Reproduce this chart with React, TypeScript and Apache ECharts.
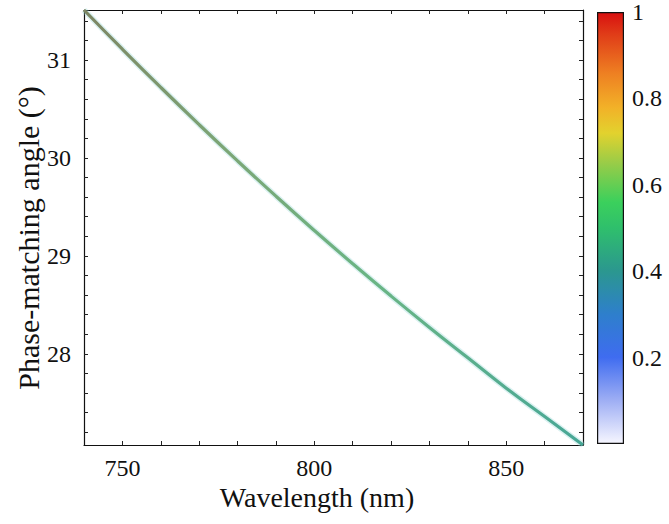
import React, { useEffect, useRef } from "react";
import * as echarts from "echarts";

// Wavelength (nm) and phase-matching angle (deg)
const wavelengths = [740, 750, 760, 770, 780, 790, 800, 810, 820, 830, 840, 850, 860, 870];
const angles = [31.51, 31.11, 30.72, 30.34, 29.97, 29.61, 29.26, 28.92, 28.59, 28.27, 27.96, 27.65, 27.36, 27.07];

const xRange = [740, 870];
const yRange = [27.07, 31.51];
const xTickLabels = [750, 800, 850];
const xMinorTicks = [750, 760, 770, 780, 790, 800, 810, 820, 830, 840, 850, 860];
const yTickLabels = [28, 29, 30, 31];
const yMinorTicks = [
  27.2, 27.4, 27.6, 27.8, 28, 28.2, 28.4, 28.6, 28.8, 29, 29.2, 29.4, 29.6, 29.8,
  30, 30.2, 30.4, 30.6, 30.8, 31, 31.2, 31.4,
];
const colorbarRange = [0, 1];
const colorbarTickLabels = [0.2, 0.4, 0.6, 0.8, 1];
const colorbarTicks = [0.2, 0.4, 0.6, 0.8];
const colorbarStops: [number, string][] = [
  [0.0, "#f6f6ff"],
  [0.1, "#9eaef4"],
  [0.2, "#3f6cf0"],
  [0.3, "#2e7fcc"],
  [0.4, "#2b978f"],
  [0.5, "#2fbf6c"],
  [0.56, "#3bd05c"],
  [0.65, "#98cc48"],
  [0.72, "#e2d22e"],
  [0.78, "#f2b128"],
  [0.86, "#ee7f22"],
  [0.95, "#e03c18"],
  [1.0, "#d81010"],
];

const FONT = "Liberation Serif, DejaVu Serif, serif";

export default function App() {
  const ref = useRef<HTMLDivElement>(null);
  useEffect(() => {
    document.body.style.margin = "0";
    const chart = echarts.init(ref.current!, null, { renderer: "svg" });
    const axisLine = { show: true, onZero: false, lineStyle: { color: "#111", width: 1.2 } };
    const tickStyle = { color: "#222", width: 1 };
    const cbGradient = new echarts.graphic.LinearGradient(
      0,
      0,
      0,
      1,
      colorbarStops.map(([v, c]) => ({ offset: 1 - v, color: c })).reverse()
    );
    const lineGradient = new echarts.graphic.LinearGradient(0, 0, 1, 1, [
      { offset: 0, color: "#7d8664" },
      { offset: 0.3, color: "#7ca676" },
      { offset: 0.6, color: "#6ab584" },
      { offset: 1, color: "#48a796" },
    ]);
    const labelStyle = { fontFamily: FONT, fontSize: 24, color: "#111" };
    chart.setOption({
      animation: false,
      backgroundColor: "#ffffff",
      textStyle: { fontFamily: FONT },
      grid: [
        { left: 84, right: 86, top: 10, bottom: 79 },
        { left: 597, right: 45, top: 10, bottom: 80 },
      ],
      xAxis: [
        {
          type: "value",
          gridIndex: 0,
          position: "bottom",
          min: xRange[0],
          max: xRange[1],
          axisLine,
          axisTick: { show: true, inside: true, length: 4, customValues: xMinorTicks, lineStyle: tickStyle },
          axisLabel: { customValues: xTickLabels, ...labelStyle, margin: 11 },
          splitLine: { show: false },
        },
        {
          type: "value",
          gridIndex: 0,
          position: "top",
          min: xRange[0],
          max: xRange[1],
          axisLine,
          axisTick: { show: true, inside: true, length: 4, customValues: xMinorTicks, lineStyle: tickStyle },
          axisLabel: { show: false },
          splitLine: { show: false },
        },
        { type: "category", gridIndex: 1, data: ["c"], show: false },
      ],
      yAxis: [
        {
          type: "value",
          gridIndex: 0,
          position: "left",
          min: yRange[0],
          max: yRange[1],
          axisLine,
          axisTick: { show: true, inside: true, length: 4, customValues: yMinorTicks, lineStyle: tickStyle },
          axisLabel: { customValues: yTickLabels, ...labelStyle, margin: 13 },
          splitLine: { show: false },
        },
        {
          type: "value",
          gridIndex: 0,
          position: "right",
          min: yRange[0],
          max: yRange[1],
          axisLine,
          axisTick: { show: true, inside: true, length: 4, customValues: yMinorTicks, lineStyle: tickStyle },
          axisLabel: { show: false },
          splitLine: { show: false },
        },
        {
          type: "value",
          gridIndex: 1,
          position: "right",
          min: colorbarRange[0],
          max: colorbarRange[1],
          axisLine: { show: false },
          axisTick: { show: true, inside: true, length: 4, customValues: colorbarTicks, lineStyle: tickStyle },
          axisLabel: {
            customValues: colorbarTickLabels,
            ...labelStyle,
            margin: 8,
            formatter: (v: number) => String(v),
          },
          splitLine: { show: false },
        },
      ],
      series: [
        {
          type: "line",
          xAxisIndex: 0,
          yAxisIndex: 0,
          data: wavelengths.map((w, i) => [w, angles[i]]),
          smooth: true,
          showSymbol: false,
          symbol: "none",
          lineStyle: { width: 6, color: "rgba(150,215,215,0.35)" },
          silent: true,
          z: 1,
        },
        {
          type: "line",
          xAxisIndex: 0,
          yAxisIndex: 0,
          data: wavelengths.map((w, i) => [w, angles[i]]),
          smooth: true,
          showSymbol: false,
          symbol: "none",
          lineStyle: { width: 3.2, color: lineGradient },
          z: 2,
        },
        {
          type: "bar",
          xAxisIndex: 2,
          yAxisIndex: 2,
          data: [colorbarRange[1]],
          barWidth: "100%",
          itemStyle: { color: cbGradient, borderColor: "#111", borderWidth: 1.2 },
          silent: true,
        },
      ],
      graphic: [
        {
          type: "text",
          x: 317,
          y: 497,
          style: {
            text: "Wavelength (nm)",
            fontFamily: FONT,
            fontSize: 28,
            fill: "#111",
            align: "center",
            verticalAlign: "middle",
          },
        },
        {
          type: "text",
          x: 28,
          y: 238,
          rotation: Math.PI / 2,
          style: {
            text: "Phase-matching angle (°)",
            fontFamily: FONT,
            fontSize: 30,
            fill: "#111",
            align: "center",
            verticalAlign: "middle",
          },
        },
      ],
    });
    return () => chart.dispose();
  }, []);
  return (
    <div
      ref={ref}
      style={{ position: "fixed", left: 0, top: 0, width: 669, height: 524, background: "#fff" }}
    />
  );
}
